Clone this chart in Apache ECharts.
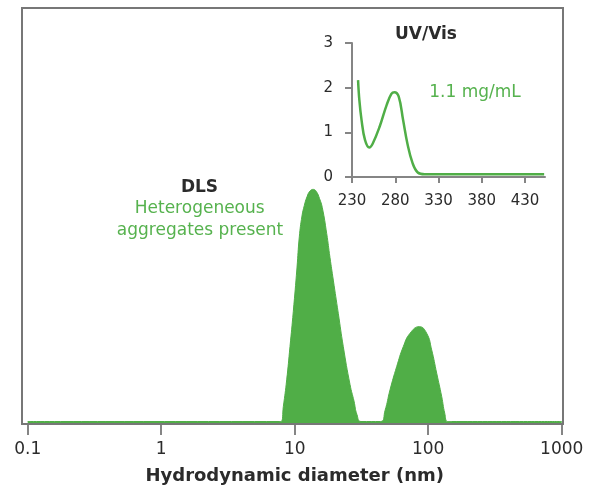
<!DOCTYPE html>
<html>
<head>
<meta charset="utf-8">
<script src="https://cdn.jsdelivr.net/npm/echarts@6/dist/echarts.min.js"></script>
<style>
  html, body { margin: 0; padding: 0; background: #fff; }
  #main { width: 593px; height: 487px; }
</style>
</head>
<body>
<div id="main"></div>
<script>
// DLS size distribution (diameter in nm, intensity in arbitrary units)
var dlsDiameter = [0.1, 7.5, 7.9, 8.22, 8.71, 9.22, 9.76, 10.4, 10.83, 11.34, 11.8, 12.36, 13.02, 13.79, 14.57, 15.34, 16.1, 17.36, 18.38, 19.46,
  21.21, 23.12, 25.96, 27.81, 29.3, 31.38,
  44.0, 47.46, 51.75, 58.08, 65.09, 73.08, 85.76, 97.45, 106.2, 115.8, 126.2, 133, 139.5, 150, 1000]
var dlsIntensity = [0.6, 0.6, 0.6, 4.2, 10.6, 18.6, 27, 37.5, 45, 50, 52.5, 54.6, 56, 56.4, 55.8, 54.2, 52, 45.8, 40, 34.6,
  26.6, 18.6, 9.5, 5.5, 2.2, 0.6,
  0.6, 3.2, 8.2, 13.8, 18.6, 21.8, 23.4, 21.8, 17.8, 12.2, 6.6, 2.6, 0.6, 0.6, 0.6]

// UV/Vis spectrum
var uvWavelength = [237, 238.5, 241, 245, 250, 254, 262, 270, 275.5, 279, 284, 289, 294, 300, 306, 314, 452]
var uvAbsorbance = [2.17, 1.72, 1.28, 0.83, 0.66, 0.75, 1.13, 1.61, 1.86, 1.90, 1.80, 1.28, 0.75, 0.31, 0.10, 0.06, 0.06]

var uvTicks = [230, 280, 330, 380, 430]

var green = '#50ae47'
var textGreen = '#56b24e'
var dark = '#2b2b2b'
var gray = '#858585'
var font = 'DejaVu Sans'

var dlsData = dlsDiameter.map(function (d, i) { return [d, dlsIntensity[i]] })
var uvData = uvWavelength.map(function (w, i) { return [w, uvAbsorbance[i]] })

var myChart = echarts.init(document.getElementById('main'))

var option = {
  animation: false,
  grid: [
    { left: 27.7, right: 31.3, top: 8, bottom: 63, outerBoundsMode: 'none' },
    { left: 352, top: 43, width: 193, height: 134, outerBoundsMode: 'none' }
  ],
  xAxis: [
    {
      type: 'log',
      gridIndex: 0,
      min: 0.1,
      max: 1000,
      logBase: 10,
      name: 'Hydrodynamic diameter (nm)',
      nameLocation: 'middle',
      nameGap: 43,
      nameTextStyle: { fontFamily: font, fontSize: 18, fontWeight: 'bold', color: dark },
      axisLine: { show: false },
      axisTick: { show: true, length: 11, lineStyle: { color: gray, width: 2 } },
      axisLabel: {
        fontFamily: font, fontSize: 17, color: dark, margin: 17,
        formatter: function (v) { return v < 1 ? v.toFixed(1) : String(Math.round(v)) }
      },
      splitLine: { show: false },
      minorTick: { show: false }
    },
    {
      type: 'value',
      gridIndex: 1,
      min: 230,
      max: 453,
      axisLine: { show: true, lineStyle: { color: gray, width: 2 } },
      axisTick: { show: true, length: 6, customValues: uvTicks, lineStyle: { color: gray, width: 2 } },
      axisLabel: { fontFamily: font, fontSize: 15, color: dark, margin: 17, customValues: uvTicks },
      splitLine: { show: false }
    }
  ],
  yAxis: [
    { type: 'value', gridIndex: 0, min: 0, max: 100, show: false },
    {
      type: 'value',
      gridIndex: 1,
      min: 0,
      max: 3,
      interval: 1,
      axisLine: { show: true, lineStyle: { color: gray, width: 2 } },
      axisTick: { show: true, length: 7, lineStyle: { color: gray, width: 2 } },
      axisLabel: { fontFamily: font, fontSize: 15, color: dark, margin: 19 },
      splitLine: { show: false }
    }
  ],
  series: [
    {
      type: 'line',
      xAxisIndex: 0,
      yAxisIndex: 0,
      data: dlsData,
      smooth: 0.5,
      symbol: 'none',
      lineStyle: { color: green, width: 1 },
      areaStyle: { color: green, opacity: 1 }
    },
    {
      type: 'line',
      xAxisIndex: 1,
      yAxisIndex: 1,
      data: uvData,
      smooth: 0.4,
      symbol: 'none',
      lineStyle: { color: green, width: 2.5 }
    }
  ],
  graphic: [
    {
      type: 'rect',
      z: 100,
      shape: { x: 22, y: 8, width: 541, height: 416 },
      style: { fill: 'none', stroke: '#777', lineWidth: 2 }
    },
    {
      type: 'text', x: 199.5, y: 188,
      style: { text: 'DLS', fontFamily: font, fontSize: 17, fontWeight: 'bold', fill: dark, align: 'center', verticalAlign: 'middle' }
    },
    {
      type: 'text', x: 199.7, y: 208.5,
      style: { text: 'Heterogeneous', fontFamily: font, fontSize: 17, fill: textGreen, align: 'center', verticalAlign: 'middle' }
    },
    {
      type: 'text', x: 200, y: 230.5,
      style: { text: 'aggregates present', fontFamily: font, fontSize: 17, fill: textGreen, align: 'center', verticalAlign: 'middle' }
    },
    {
      type: 'text', x: 426, y: 35,
      style: { text: 'UV/Vis', fontFamily: font, fontSize: 17, fontWeight: 'bold', fill: dark, align: 'center', verticalAlign: 'middle' }
    },
    {
      type: 'text', x: 475, y: 92.5,
      style: { text: '1.1 mg/mL', fontFamily: font, fontSize: 17, fill: textGreen, align: 'center', verticalAlign: 'middle' }
    }
  ]
}

myChart.setOption(option)

window.addEventListener('resize', function () {
  myChart.resize()
})
</script>
</body>
</html>
